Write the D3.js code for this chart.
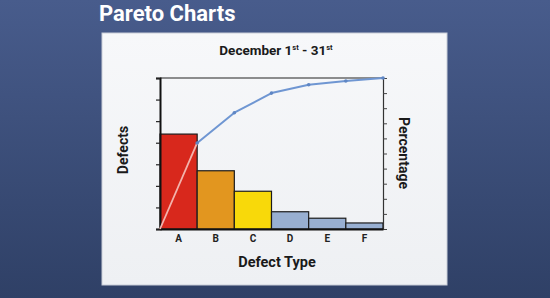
<!DOCTYPE html>
<html>
<head>
<meta charset="utf-8">
<script src="https://cdn.jsdelivr.net/npm/d3@7"></script>
<style>
  html, body { margin: 0; padding: 0; background: #3d5080; }
  svg { display: block; font-family: Roboto, "Noto Sans", sans-serif; }
</style>
</head>
<body>
<div id="chart"></div>
<script>
// chart data
let categories = ["A", "B", "C", "D", "E", "F"];
let defects = [44, 27, 17.5, 8, 5, 2.8];
let cumulativePct = [57, 77, 90, 95.5, 98, 100];
let barColors = ["#d8281c", "#e2961f", "#f8d90a", "#98afd1", "#98afd1", "#98afd1"];
let defectTicks = [0, 10, 20, 30, 40, 50, 60, 70];
let pctTicks = [0, 10, 20, 30, 40, 50, 60, 70, 80, 90, 100];

let width = 550, height = 298;

let svg = d3.select("#chart").append("svg")
  .attr("width", width)
  .attr("height", height);

let defs = svg.append("defs");
let bg = defs.append("linearGradient").attr("id", "bg")
  .attr("x1", 0).attr("y1", 0).attr("x2", 0).attr("y2", 1);
bg.append("stop").attr("offset", "0%").attr("stop-color", "#485c8c");
bg.append("stop").attr("offset", "100%").attr("stop-color", "#2f4066");

let card = defs.append("linearGradient").attr("id", "card")
  .attr("x1", 0).attr("y1", 0).attr("x2", 0).attr("y2", 1);
card.append("stop").attr("offset", "0%").attr("stop-color", "#f7f8fa");
card.append("stop").attr("offset", "100%").attr("stop-color", "#eef0f3");

svg.append("rect").attr("width", width).attr("height", height).attr("fill", "url(#bg)");

// page heading
svg.append("text")
  .attr("x", 99).attr("y", 21)
  .attr("fill", "#ffffff")
  .attr("font-size", 22).attr("font-weight", "bold")
  .text("Pareto Charts");

// white card
svg.append("rect")
  .attr("x", 102).attr("y", 33)
  .attr("width", 345).attr("height", 252)
  .attr("fill", "url(#card)")
  .attr("stroke", "#c9ced8").attr("stroke-width", 1);

// chart title with superscripts
let title = svg.append("text")
  .attr("x", 276).attr("y", 55)
  .attr("text-anchor", "middle")
  .attr("fill", "#1a1a1a")
  .attr("font-size", 13.5).attr("font-weight", "bold");
title.append("tspan").text("December 1");
title.append("tspan").attr("font-size", 7.5).attr("dy", -5).text("st");
title.append("tspan").attr("dy", 5).text(" - 31");
title.append("tspan").attr("font-size", 7.5).attr("dy", -5).text("st");

let plot = { left: 160, right: 383, top: 78, bottom: 229 };

let x = d3.scaleBand()
  .domain(categories)
  .range([plot.left, plot.right])
  .padding(0);

let y = d3.scaleLinear()
  .domain([0, 70])
  .range([plot.bottom, plot.top]);

let yPct = d3.scaleLinear()
  .domain([0, 100])
  .range([plot.bottom, plot.top]);

let g = svg.append("g");

// top border of plot
g.append("line")
  .attr("x1", plot.left).attr("x2", plot.right)
  .attr("y1", plot.top).attr("y2", plot.top)
  .attr("stroke", "#222").attr("stroke-width", 1.2);

// bars
g.selectAll(".bar")
  .data(defects)
  .enter().append("rect")
  .attr("class", "bar")
  .attr("x", (d, i) => x(categories[i]))
  .attr("y", d => y(d))
  .attr("width", x.bandwidth())
  .attr("height", d => y(0) - y(d))
  .attr("fill", (d, i) => barColors[i])
  .attr("stroke", "#1c1c1c")
  .attr("stroke-width", 1.2);

// left axis
let leftAxis = g.append("g")
  .attr("transform", "translate(" + plot.left + ",0)")
  .call(d3.axisLeft(y).tickValues(defectTicks).tickSize(4).tickFormat(""));
leftAxis.select(".domain").attr("stroke", "#111").attr("stroke-width", 2);
leftAxis.selectAll(".tick line").attr("stroke", "#222").attr("stroke-width", 1.2);

// right axis
let rightAxis = g.append("g")
  .attr("transform", "translate(" + plot.right + ",0)")
  .call(d3.axisRight(yPct).tickValues(pctTicks).tickSize(4).tickFormat(""));
rightAxis.select(".domain").attr("stroke", "#333").attr("stroke-width", 1.2);
rightAxis.selectAll(".tick line").attr("stroke", "#444").attr("stroke-width", 1);

// bottom axis
let bottomAxis = g.append("g")
  .attr("transform", "translate(0," + plot.bottom + ")")
  .call(d3.axisBottom(x).tickSize(0).tickPadding(6));
bottomAxis.select(".domain").attr("stroke", "#111").attr("stroke-width", 2);
bottomAxis.selectAll("text")
  .attr("font-size", 10).attr("font-weight", "bold")
  .attr("fill", "#222")
  .attr("font-family", "Roboto, sans-serif");

// cumulative line: points at the right edge of each bar
let linePts = [[plot.left, yPct(0)]].concat(
  cumulativePct.map((p, i) => [x(categories[i]) + x.bandwidth(), yPct(p)])
);

g.append("path")
  .datum(linePts.slice(1))
  .attr("fill", "none")
  .attr("stroke", "#6f96d2")
  .attr("stroke-width", 2)
  .attr("stroke-linejoin", "round")
  .attr("d", d3.line());

// first segment drawn over the red bar
g.append("path")
  .datum(linePts.slice(0, 2))
  .attr("fill", "none")
  .attr("stroke", "#f3b3ac")
  .attr("stroke-width", 1.8)
  .attr("d", d3.line());

g.selectAll(".pt")
  .data(linePts.slice(1))
  .enter().append("circle")
  .attr("class", "pt")
  .attr("cx", d => d[0])
  .attr("cy", d => d[1])
  .attr("r", 1.8)
  .attr("fill", "#5f86c4");

// axis titles
svg.append("text")
  .attr("transform", "translate(128,150) rotate(-90)")
  .attr("text-anchor", "middle")
  .attr("fill", "#1a1a1a")
  .attr("font-size", 14).attr("font-weight", "bold")
  .text("Defects");

svg.append("text")
  .attr("transform", "translate(399,153) rotate(90)")
  .attr("text-anchor", "middle")
  .attr("fill", "#1a1a1a")
  .attr("font-size", 14).attr("font-weight", "bold")
  .text("Percentage");

svg.append("text")
  .attr("x", 277).attr("y", 267)
  .attr("text-anchor", "middle")
  .attr("fill", "#1a1a1a")
  .attr("font-size", 14.5).attr("font-weight", "bold")
  .text("Defect Type");
</script>
</body>
</html>
